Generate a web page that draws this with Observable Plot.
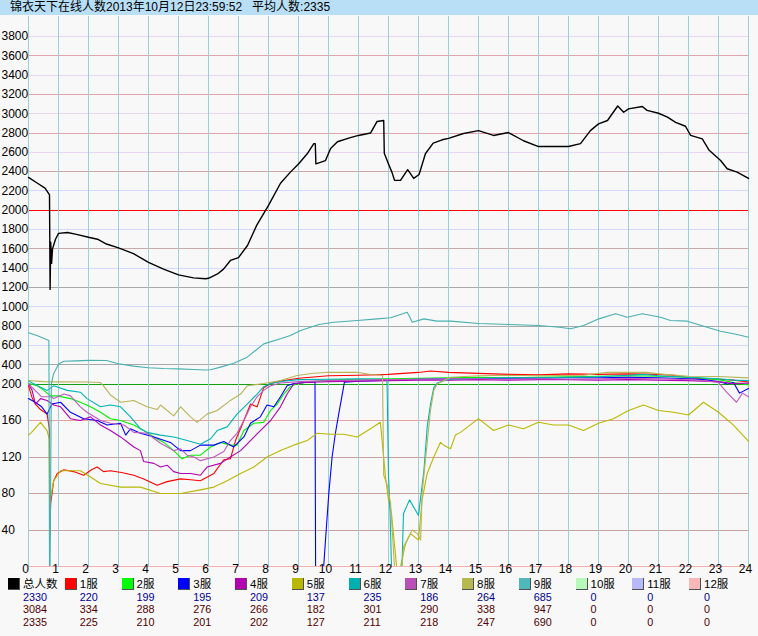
<!DOCTYPE html>
<html><head><meta charset="utf-8">
<script src="https://cdn.jsdelivr.net/npm/d3@7"></script>
<script src="https://cdn.jsdelivr.net/npm/@observablehq/plot@0.6"></script>
<style>
body{margin:0;background:#f8f8f8;width:758px;height:636px;overflow:hidden;font-family:"Liberation Sans","Noto Sans CJK SC",sans-serif;}
#title{height:15px;background:#b9dff7;font-size:12px;line-height:15px;padding-left:10px;white-space:pre;color:#000;font-family:"Liberation Sans","Noto Sans CJK SC",sans-serif;}
#chart svg{display:block}
#legend{position:relative;height:58px;}
#legend div{position:absolute;white-space:pre;}
</style></head><body>
<div id="title"></div><div id="chart"></div><div id="legend"></div>
<script>
const titleText = "锦衣天下在线人数2013年10月12日23:59:52   平均人数:2335";
const xTicks = [0,1,2,3,4,5,6,7,8,9,10,11,12,13,14,15,16,17,18,19,20,21,22,23,24];
const yTicks = [40,80,120,160,200,400,600,800,1000,1200,1400,1600,1800,2000,2200,2400,2600,2800,3000,3200,3400,3600,3800];

const names = ["总人数","1服","2服","3服","4服","5服","6服","7服","8服","9服","10服","11服","12服"];
const nowVals = [2330,220,199,195,209,137,235,186,264,685,0,0,0];
const maxVals = [3084,334,288,276,266,182,301,290,338,947,0,0,0];
const avgVals = [2335,225,210,201,202,127,211,218,247,690,0,0,0];

const total = [[0,2340],[0.3,2280],[0.55,2230],[0.68,2170],[0.7,2160],[0.72,1180],[0.74,1670],[0.77,1450],[0.8,1600],[0.9,1700],[1.0,1760],[1.3,1770],[1.6,1750],[2.0,1720],[2.3,1700],[2.6,1650],[3.0,1610],[3.5,1550],[4.0,1460],[4.5,1390],[5.0,1330],[5.5,1300],[5.9,1290],[6.0,1295],[6.3,1340],[6.5,1390],[6.73,1480],[7.0,1510],[7.3,1635],[7.6,1840],[8.0,2050],[8.4,2280],[8.73,2395],[9.0,2480],[9.29,2585],[9.51,2690],[9.56,2690],[9.58,2480],[9.9,2515],[10.07,2640],[10.3,2710],[10.7,2750],[11.0,2775],[11.4,2800],[11.62,2920],[11.84,2930],[11.86,2590],[12.0,2480],[12.12,2390],[12.2,2310],[12.4,2310],[12.55,2380],[12.64,2420],[12.84,2330],[13.02,2370],[13.23,2585],[13.49,2695],[13.79,2730],[14.0,2745],[14.5,2795],[15.0,2825],[15.5,2775],[16.0,2805],[16.5,2720],[17.0,2660],[17.5,2660],[18.0,2660],[18.4,2690],[18.73,2825],[19.0,2895],[19.3,2930],[19.64,3080],[19.84,3015],[20.0,3050],[20.46,3075],[20.62,3035],[21.0,3005],[21.3,2965],[21.57,2910],[21.9,2870],[22.07,2775],[22.46,2740],[22.68,2625],[23.07,2515],[23.29,2430],[23.62,2395],[24.0,2330]];
const s1 = [[0,198],[0.12,185],[0.23,178],[0.4,172],[0.62,167],[0.7,150],[0.71,33],[0.74,69],[0.84,94],[0.96,102],[1.18,106],[1.5,104],[1.84,100],[2.1,106],[2.29,109],[2.5,104],[2.73,105],[3.1,103],[3.51,100],[3.84,96],[4.29,89],[4.62,93],[5.07,96],[5.4,95],[5.73,94],[6.18,102],[6.51,117],[6.73,118],[6.9,138],[7.18,160],[7.4,178],[7.62,175],[7.84,196],[8.07,205],[8.4,230],[9.0,260],[10.0,285],[11.0,290],[12.0,300],[12.5,310],[13.0,320],[13.4,334],[14.0,320],[15.0,310],[16.0,300],[17.0,295],[18.0,305],[19.0,300],[20.0,305],[21.0,300],[21.5,290],[22.0,265],[22.5,255],[23.0,250],[23.5,240],[24,220]];
const s2 = [[0,205],[0.3,198],[0.51,193],[0.73,187],[0.96,187],[1.4,184],[1.73,180],[2.07,175],[2.4,169],[2.73,162],[3.07,160],[3.51,155],[3.84,149],[4.18,142],[4.51,136],[4.84,127],[5.12,118],[5.4,122],[5.73,122],[6.07,131],[6.4,136],[6.73,133],[6.95,133],[7.18,149],[7.51,157],[7.84,158],[8.07,171],[8.29,178],[8.51,189],[8.73,197],[8.95,205],[9.5,225],[10,240],[11,250],[12,255],[13,260],[14,265],[15,270],[16,265],[17,270],[18,275],[19,280],[20,285],[21,280],[22,270],[22.5,260],[23,245],[23.5,215],[24,199]];
const s3 = [[0,184],[0.22,180],[0.44,175],[0.62,167],[0.78,178],[1.07,180],[1.4,169],[1.84,162],[2.29,160],[2.62,155],[3.07,157],[3.24,144],[3.4,151],[3.73,146],[4.18,142],[4.73,136],[5.07,127],[5.4,127],[5.73,133],[6.18,133],[6.51,137],[6.84,131],[7.18,142],[7.4,157],[7.73,164],[7.95,177],[8.18,175],[8.4,186],[8.62,198],[8.84,205],[9.2,215],[9.55,220],[9.57,0],[9.84,0],[9.9,29],[10.01,80],[10.12,120],[10.23,146],[10.34,167],[10.46,189],[10.53,219],[11,230],[12,240],[13,250],[14,255],[15,255],[16,260],[17,260],[18,265],[19,265],[20,270],[21,265],[22,255],[22.5,245],[23,225],[23.3,200],[23.5,215],[23.7,190],[24,195]];
const s4 = [[0,200],[0.12,193],[0.23,178],[0.4,184],[0.62,182],[0.84,177],[1.07,175],[1.4,162],[1.73,160],[2.07,164],[2.4,155],[2.73,149],[3.07,142],[3.51,131],[3.73,127],[3.84,115],[4.18,113],[4.4,109],[4.62,111],[4.84,104],[5.07,102],[5.4,102],[5.73,100],[5.95,109],[6.4,113],[6.73,120],[7.07,127],[7.4,138],[7.73,149],[8.07,160],[8.4,175],[8.62,189],[8.84,200],[9.2,215],[10,225],[11,230],[12,235],[13,240],[14,240],[15,245],[16,240],[17,245],[18,245],[19,240],[20,245],[21,240],[22,235],[23,225],[23.5,205],[24,209]];
const s5 = [[0,144],[0.1,147],[0.4,158],[0.62,149],[0.69,140],[0.71,40],[0.74,76],[0.84,94],[1.07,105],[1.73,105],[2.07,98],[2.4,91],[3.07,87],[3.73,87],[4.4,80],[5.07,80],[5.73,84],[6.18,87],[6.62,94],[7.07,102],[7.51,109],[7.95,120],[8.4,127],[8.84,133],[9.29,138],[9.62,146],[10.07,145],[10.51,145],[10.96,142],[11.4,151],[11.73,158],[11.9,98],[12.0,73],[12.1,58],[12.27,0],[12.4,0],[12.57,25],[12.73,36],[13.0,29],[13.12,73],[13.29,102],[13.51,120],[13.73,136],[13.84,133],[14.07,129],[14.23,144],[14.4,147],[15,162],[15.5,149],[16,155],[16.5,151],[17,158],[17.5,155],[18,155],[18.5,149],[19,157],[19.5,162],[20,171],[20.5,177],[21,171],[21.5,169],[22,166],[22.5,180],[23,169],[23.5,155],[24,137]];
const s6 = [[0,230],[0.3,198],[0.62,193],[0.84,198],[1.29,193],[1.73,191],[1.95,184],[2.4,175],[2.73,177],[3.07,175],[3.4,164],[3.73,151],[3.95,147],[4.4,144],[4.84,142],[5.29,138],[5.73,134],[6.07,140],[6.29,149],[6.62,153],[6.95,167],[7.29,178],[7.62,189],[7.84,197],[8.07,205],[8.5,230],[9,245],[10,250],[11,255],[11.95,250],[12.0,100],[12.05,60],[12.1,0],[12.45,0],[12.5,58],[12.7,73],[13.0,56],[13.18,105],[13.29,153],[13.4,178],[13.51,196],[13.62,210],[14,250],[15,260],[16,265],[17,265],[18,270],[19,275],[20,290],[20.5,300],[21,285],[22,270],[23,255],[23.5,240],[24,235]];
const s7 = [[0,200],[0.22,193],[0.44,186],[0.78,186],[0.84,184],[1.18,189],[1.4,187],[1.73,175],[1.95,169],[2.4,160],[2.73,157],[3.18,155],[3.51,147],[3.95,146],[4.4,135],[4.84,127],[5.07,129],[5.29,122],[5.51,120],[5.73,116],[6.18,120],[6.51,126],[6.73,138],[6.95,146],[7.18,160],[7.4,175],[7.62,186],[7.84,193],[8.07,198],[8.4,210],[9,225],[10,235],[11,240],[12,245],[13,250],[14,255],[15,255],[16,250],[17,255],[18,250],[19,255],[20,260],[21,255],[22,245],[22.5,235],[23,215],[23.3,190],[23.6,180],[23.8,190],[24,186]];
const s8 = [[0,236],[0.5,225],[1,222],[2,220],[2.4,215],[2.5,198],[2.73,188],[3.07,180],[3.51,182],[3.95,175],[4.29,172],[4.4,177],[4.84,165],[5.07,175],[5.4,164],[5.62,158],[5.95,167],[6.29,171],[6.73,182],[7.07,189],[7.29,198],[7.84,205],[8.4,236],[8.95,288],[9.51,312],[10,322],[11,320],[11.4,298],[11.8,290],[11.84,100],[11.95,90],[12.07,69],[12.2,0],[12.45,0],[12.5,22],[12.62,29],[12.79,40],[12.96,36],[13.07,29],[13.12,80],[13.23,116],[13.4,171],[13.51,193],[13.62,200],[14.07,270],[15,285],[16,290],[17,285],[17.7,288],[18.5,290],[19.3,322],[20,320],[20.6,322],[21,305],[22,280],[23,278],[24,264]];
const s9 = [[0,730],[0.3,700],[0.68,650],[0.7,0],[0.72,0],[0.76,200],[0.84,310],[1.01,410],[1.18,435],[1.6,440],[2.0,445],[2.6,443],[3.0,410],[3.5,385],[4.0,368],[4.5,360],[5.0,357],[5.5,350],[5.9,345],[6.07,347],[6.4,375],[6.84,415],[7.29,478],[7.84,616],[8.4,668],[8.73,702],[9.07,754],[9.4,788],[9.68,816],[10.18,840],[10.96,858],[11.62,875],[12.07,886],[12.5,930],[12.62,944],[12.7,900],[12.79,840],[13.18,875],[13.62,851],[14.07,851],[15,827],[16,816],[17,806],[17.7,788],[18.07,772],[18.51,806],[19.01,875],[19.57,927],[19.96,892],[20.46,927],[21.07,892],[21.4,858],[21.96,851],[22.62,788],[23.07,747],[23.62,713],[24,685]];
const s10 = [[0,0],[24,0]];
const s11 = [[0,0],[24,0]];
const s12 = [[0,0],[24,0]];

const series = [total,s1,s2,s3,s4,s5,s6,s7,s8,s9,s10,s11,s12];
const lineColors = ["#000000","#ff0000","#00f000","#0000ff","#b000b0","#b8b800","#00b4b4","#c058c0","#b8b458","#48b0b0","#b8f8b8","#b8b8f8","#f4b0b0"];
const swatchColors = ["#000000","#ff0000","#00ff00","#0000ff","#b000b0","#b8b800","#00b0b0","#b850b8","#b8b850","#50b8b8","#b8f8b8","#b8b8f8","#f8b8b8"];

// Broken axis: 0–200 expanded, 200–4000 compressed (ratio of the reference's grid spacing)
const BREAK = 200, SQUEEZE = 9.453;
const yWarp = v => v <= BREAK ? v : BREAK + (v - BREAK) / SQUEEZE;

const gridColor = v => v === 200 ? "#10a010" : v === 2000 ? "#ff0000" :
  v < 200 ? (v === 160 ? "#e8a0a0" : "#c8a0a0") :
  (v % 400 === 200 ? (v >= 2600 ? "#ead6f4" : "#d4d8f8") :
   (v <= 1200 ? "#a8a8a8" : v <= 2400 ? "#c8a8a8" : "#e0a4ac"));

document.getElementById("title").textContent = titleText;

const lineMarks = series.map((s, i) => Plot.line(s, {x: d => d[0], y: d => d[1], stroke: lineColors[i], strokeWidth: i === 0 ? 1.4 : 1.1}));

const chart = Plot.plot({
  width: 758, height: 563,
  marginLeft: 28, marginRight: 10, marginTop: 1, marginBottom: 12,
  style: {background: "transparent", fontSize: "12px", fontFamily: "Liberation Sans, sans-serif", color: "#000", overflow: "visible"},
  x: {domain: [0, 24], range: [28, 748], axis: null},
  y: {transform: yWarp, domain: [0, yWarp(4000)], range: [551, 1.7], axis: null},
  color: {type: "identity"},
  marks: [
    Plot.ruleY(yTicks, {y: d => d, stroke: gridColor, strokeWidth: 1, shapeRendering: "crispEdges"}),
    Plot.ruleX(xTicks, {x: d => d, stroke: "#9ccfd8", strokeWidth: 1, shapeRendering: "crispEdges"}),
    ...lineMarks,
    Plot.text(yTicks, {y: d => d, text: d => String(d), frameAnchor: "left", textAnchor: "start", dx: -27, fill: "#000"}),
    Plot.text(xTicks, {x: d => d, text: d => String(d), frameAnchor: "bottom", dy: 6.5, dx: -3, fill: "#000"})
  ]
});
document.getElementById("chart").appendChild(chart);

const legend = document.getElementById("legend");
names.forEach((n, i) => {
  const cx = 8 + i * 56.75;
  const sw = document.createElement("div");
  sw.style.cssText = `left:${cx}px;top:0px;width:11px;height:11px;background:${swatchColors[i]};border-right:1px solid #505050;border-bottom:1px solid #505050;`;
  legend.appendChild(sw);
  const lab = document.createElement("div");
  lab.style.cssText = `left:${cx + 15}px;top:-1.5px;line-height:14px;color:#000;font-family:'Liberation Sans','Noto Sans CJK SC',sans-serif;font-size:11.5px;`;
  lab.textContent = n;
  legend.appendChild(lab);
  [[nowVals, "#000090", 12.75], [maxVals, "#500000", 25.25], [avgVals, "#500000", 37.75]].forEach(([arr, col, top]) => {
    const t = document.createElement("div");
    t.style.cssText = `left:${cx + 15}px;top:${top}px;line-height:12.5px;font-size:10.8px;color:${col};font-family:'Liberation Sans',sans-serif;`;
    t.textContent = String(arr[i]);
    legend.appendChild(t);
  });
});
</script></body></html>
